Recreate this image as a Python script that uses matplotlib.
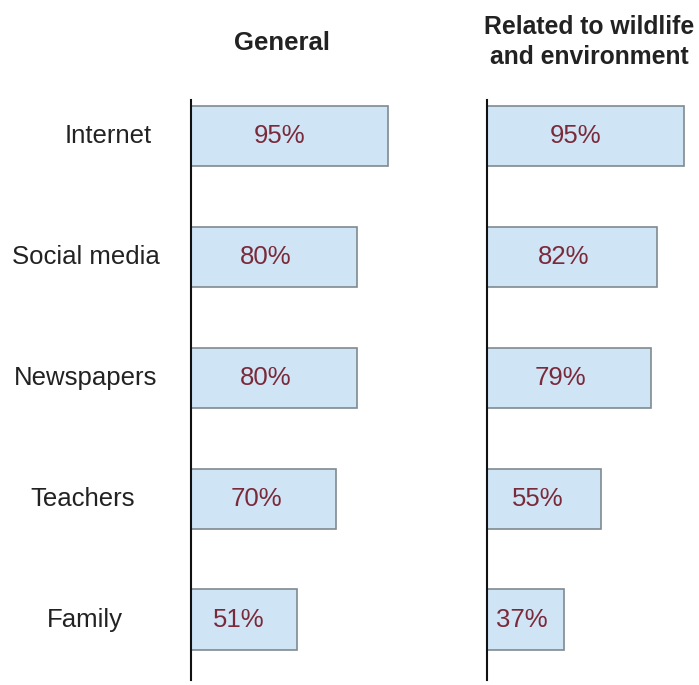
import matplotlib.pyplot as plt

plt.rcParams['font.family'] = ['Liberation Sans', 'DejaVu Sans']

# survey data: share of respondents using each source
sources = ["Internet", "Social media", "Newspapers", "Teachers", "Family"]
general = [95, 80, 80, 70, 51]
wildlife = [95, 82, 79, 55, 37]
titles = ["General", "Related to wildlife\nand environment"]

# horizontal centres (figure px) for the source names
label_x = [108, 86, 86, 83, 85]

W, H = 699, 685
fig = plt.figure(figsize=(W / 100, H / 100), dpi=100)

bar_face = "#cfe5f5"
bar_edge = "#7f8a90"
val_color = "#7a2a3a"

ax_left = fig.add_axes([191 / W, 5 / H, 207 / W, 580 / H])
ax_right = fig.add_axes([487 / W, 5 / H, 207 / W, 580 / H])

for ax, vals in [(ax_left, general), (ax_right, wildlife)]:
    y = list(range(len(vals)))
    ax.barh(y, vals, height=0.5, color=bar_face, edgecolor=bar_edge, linewidth=1.2)
    for yi, v in zip(y, vals):
        ax.text(v * 0.45, yi, f"{v}%", ha="center", va="center",
                fontsize=18.5, color=val_color)
    ax.set_xlim(0, 100)
    ax.set_ylim(4.5, -0.3)
    for s in ["top", "right", "bottom"]:
        ax.spines[s].set_visible(False)
    ax.spines["left"].set_linewidth(1.5)
    ax.spines["left"].set_color("#111111")
    ax.set_xticks([])
    ax.set_yticks([])
    ax.patch.set_alpha(0)

# source names to the left of the first panel
for i, name in enumerate(sources):
    ypix = ax_left.transData.transform((0, i))[1]
    fig.text(label_x[i] / W, ypix / H, name, ha="center", va="center",
             fontsize=18.5, color="#222222")

fig.text(282 / W, 1 - 43 / H, titles[0], ha="center", va="center",
         fontsize=18.5, fontweight="bold", color="#222222")
fig.text(589 / W, 1 - 42 / H, titles[1], ha="center", va="center",
         fontsize=17.8, fontweight="bold", color="#222222", linespacing=1.3)

fig.savefig("out.png", dpi=100, facecolor="white")
